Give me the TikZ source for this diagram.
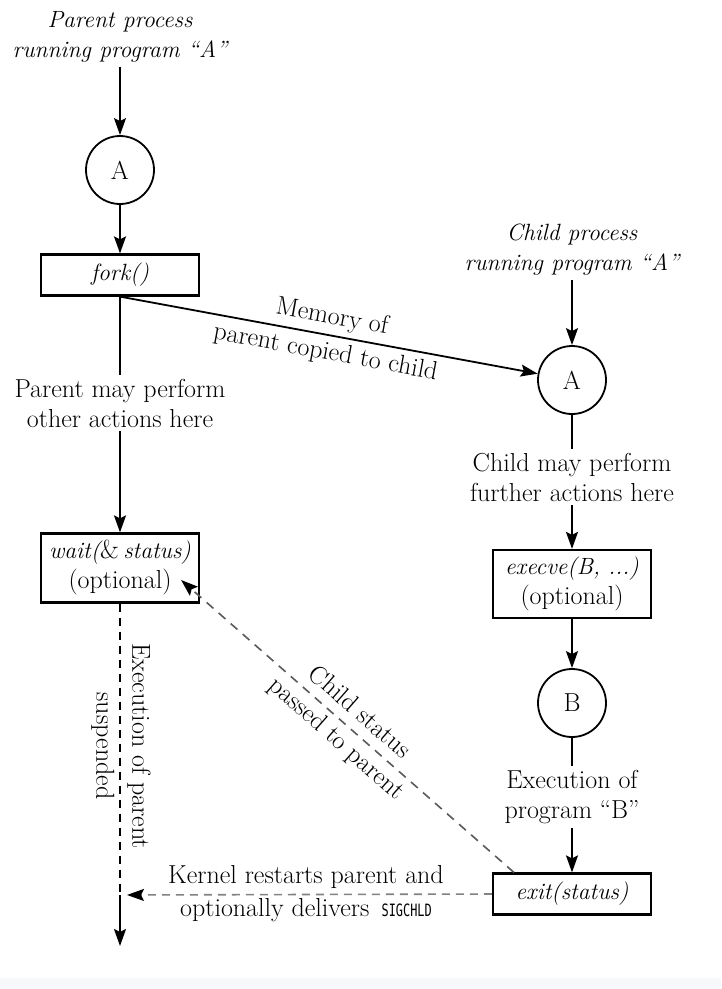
\documentclass[tikz,border=0pt]{standalone}
\usepackage{fontspec}
\newfontfamily\sigfont[FakeStretch=0.7]{DejaVu Sans Mono}
\usetikzlibrary{arrows.meta, calc}
\definecolor{band}{RGB}{247,248,250}
\definecolor{dashgray}{RGB}{90,90,90}
\definecolor{lightdash}{RGB}{130,130,130}
\newcommand{\fn}[1]{{\fontsize{23.5}{30}\selectfont\itshape #1}}
\tikzstyle{process} = [circle, draw=black, line width=1.8pt, minimum size=68pt, inner sep=0pt]
\tikzstyle{call} = [rectangle, draw=black, line width=2.2pt, minimum width=158pt, minimum height=41pt, inner sep=4pt, text centered, align=center]
\tikzstyle{note} = [align=center, inner sep=4pt]
\tikzstyle{line} = [line width=1.8pt]
\tikzstyle{arrow} = [line width=1.8pt, -{Stealth[length=17pt, width=12pt, inset=3pt]}]
\tikzstyle{dashedline} = [line width=1.8pt, dash pattern=on 8pt off 6pt]
\tikzstyle{dashedarrow} = [line width=1.6pt, dash pattern=on 9pt off 7pt, draw=dashgray, -{Stealth[length=17pt, width=12pt, inset=3pt, color=black]}]

\begin{document}
\begin{tikzpicture}[x=1pt, y=-1pt, font=\fontsize{26}{30}\selectfont]
	\useasboundingbox (0,0) rectangle (721,989);
	\fill [white] (0,0) rectangle (721,978);
	\fill [band] (0,978) rectangle (721,989);

	% parent side
	\node (ParentLabel) [note] at (120,37) {\fn{Parent process}\\\fn{running program “A”}};
	\node (ParentA) [process] at (120,170) {A};
	\node (Fork) [call] at (120,275) {\fn{fork()}};
	\node (ParentNote) [note] at (120,403) {Parent may perform\\other actions here};
	\node (Wait) [call, minimum height=69pt] at (120,568) {\fn{wait(}\&\,\fn{status)}\\(optional)};
	\node (Suspended) [note, rotate=-90, font=\fontsize{26}{36}\selectfont] at (121,746) {Execution of parent\\suspended};
	\coordinate (Resume) at (120,895);
	\coordinate (ParentEnd) at (120,946);

	% child side
	\node (ChildLabel) [note] at (572,250) {\fn{Child process}\\\fn{running program “A”}};
	\node (ChildA) [process] at (572,380) {A};
	\node (ChildNote) [note] at (572,477) {Child may perform\\further actions here};
	\node (Execve) [call, minimum height=68pt] at (572,584) {\fn{execve(B, ...)}\\(optional)};
	\node (ChildB) [process] at (572,703) {B};
	\node (ExecNote) [note] at (572,797) {Execution of\\program “B”};
	\node (Exit) [call] at (572,894) {\fn{exit(status)}};

	\coordinate (StatusOut) at ($(Exit.north west)+(22,0)$);
	\coordinate (StatusIn) at ($(Wait.east)+(-19,12)$);

	\draw [arrow] (ParentLabel) -- (ParentA);
	\draw [arrow] (ParentA) -- (Fork);
	\draw [line] (Fork) -- (ParentNote);
	\draw [arrow] (ParentNote) -- (Wait);
	\draw [dashedline] (Wait) -- (Resume);
	\draw [arrow] (Resume) -- (ParentEnd);

	\draw [arrow] (Fork.south) -- node[midway, sloped, align=center, font=\fontsize{26}{36}\selectfont] {Memory of\\parent copied to child} (ChildA);

	\draw [arrow] (ChildLabel) -- (ChildA);
	\draw [line] (ChildA) -- (ChildNote);
	\draw [arrow] (ChildNote) -- (Execve);
	\draw [arrow] (Execve) -- (ChildB);
	\draw [line] (ChildB) -- (ExecNote);
	\draw [arrow] (ExecNote) -- (Exit);

	\draw [dashedarrow] (StatusOut) -- node[midway, sloped, align=center, text=black, font=\fontsize{26}{35}\selectfont] {Child status\\passed to parent} (StatusIn);
	\draw [dashedarrow, draw=lightdash, dash pattern=on 8pt off 6pt, shorten >=7pt] (Exit.west) -- node[midway, above, inner sep=5pt, text=black] {Kernel restarts parent and} node[midway, below, inner sep=3pt, text=black] {optionally delivers\, {\sigfont\fontsize{17}{18}\selectfont SIGCHLD}} (Resume);
\end{tikzpicture}
\end{document}
